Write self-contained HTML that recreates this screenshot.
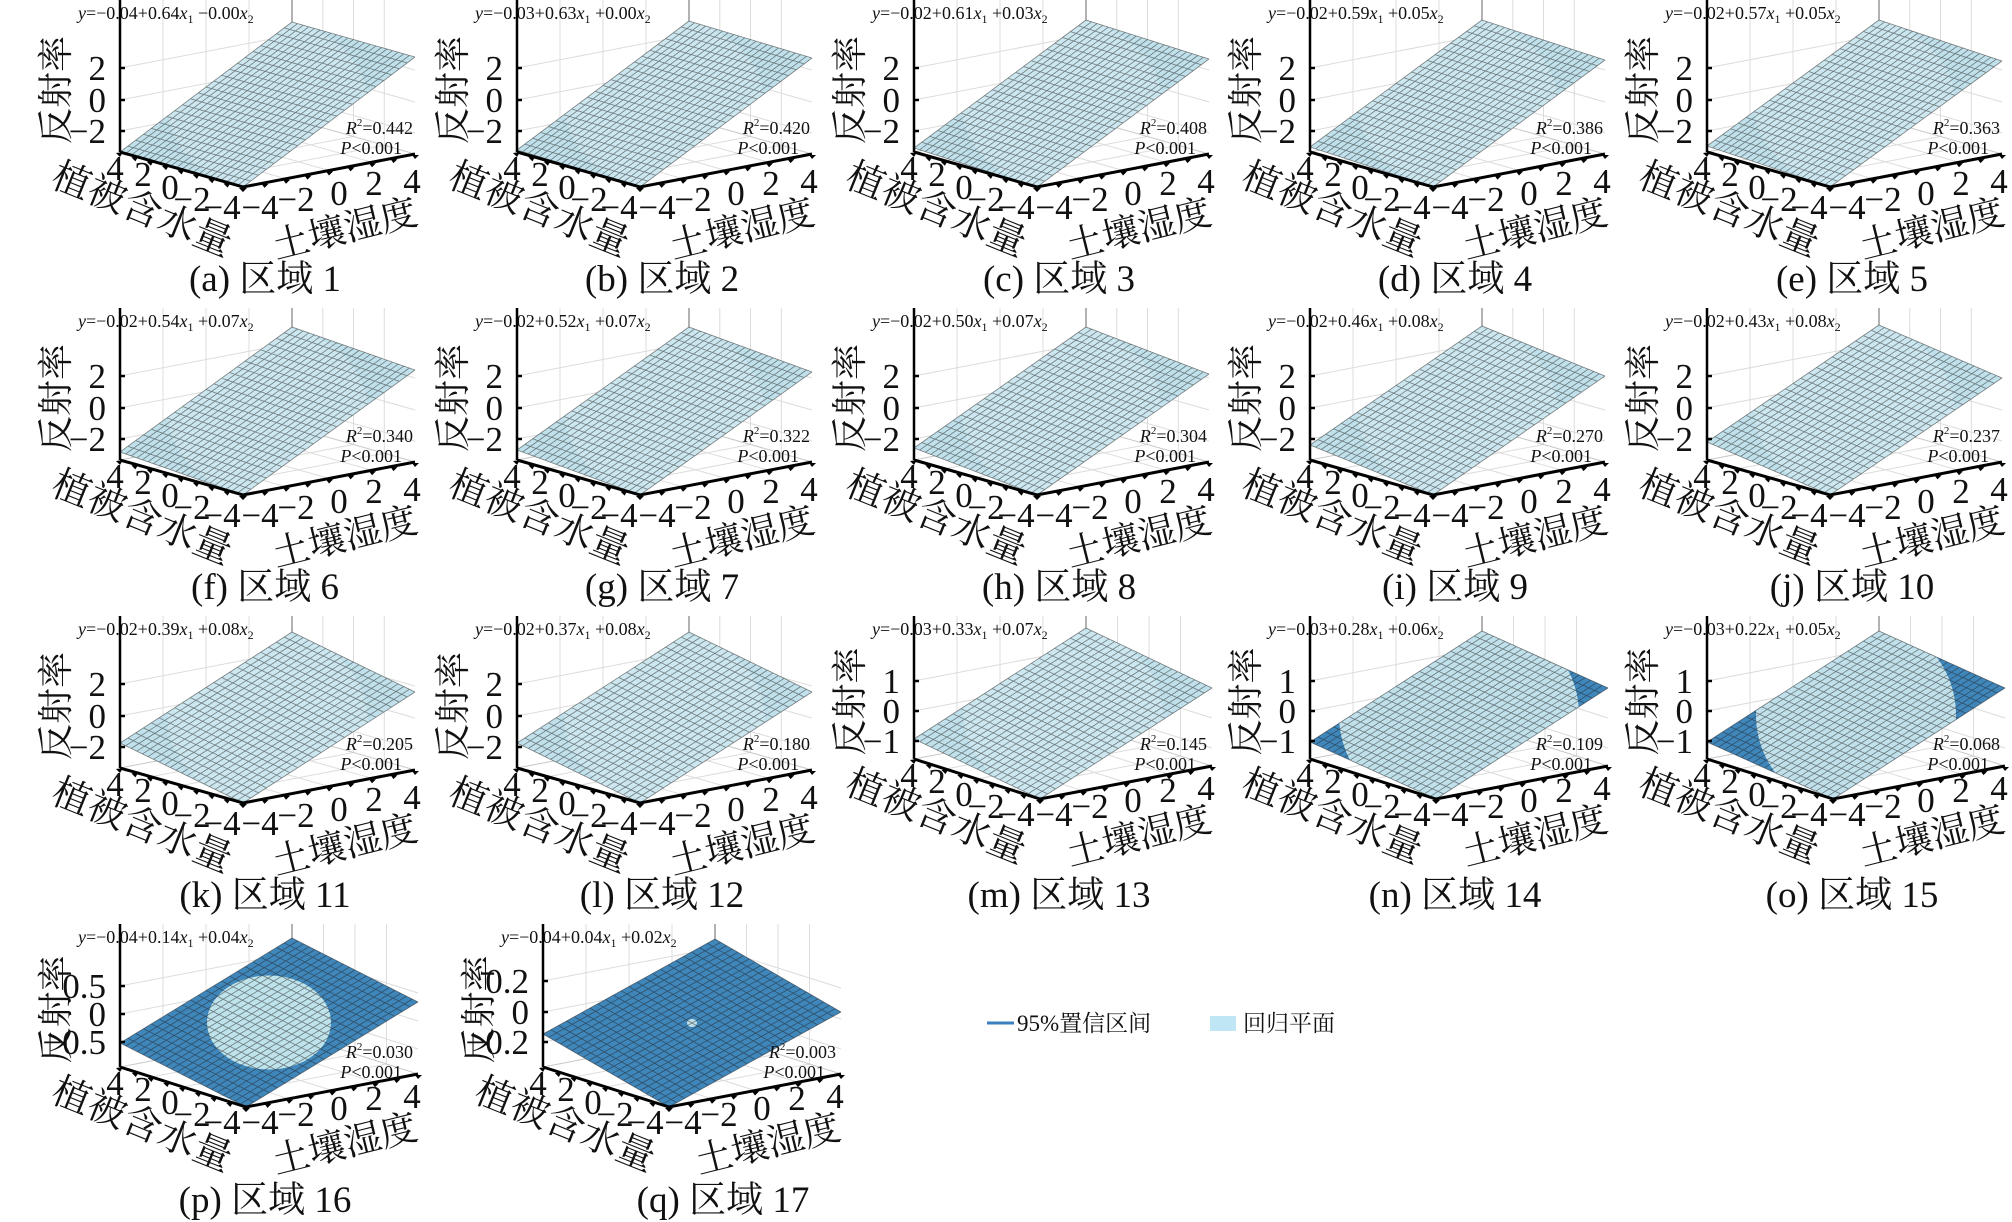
<!DOCTYPE html>
<html><head><meta charset="utf-8">
<style>
html,body{margin:0;padding:0;background:#fff;}
svg{display:block;}
text{font-family:"Liberation Serif","Noto Serif CJK SC","Noto Sans CJK SC",serif;fill:#111;}
</style></head>
<body>
<svg id="s" width="2012" height="1222" viewBox="0 0 2012 1222" xmlns="http://www.w3.org/2000/svg">
<line x1="987" y1="1023" x2="1014" y2="1023" stroke="#3a7fc0" stroke-width="3"/>
<text x="1017" y="1031" font-size="23">95%置信区间</text>
<rect x="1210" y="1016" width="26" height="15" fill="#bfe6f5"/>
<text x="1243" y="1031" font-size="23">回归平面</text>
</svg>
<script>
var P=[
["a",-0.04,0.64,"−","0.00","0.442",0,97,0],
["b",-0.03,0.63,"+","0.00","0.420",2,96,0],
["c",-0.02,0.61,"+","0.03","0.408",4,95,0],
["d",-0.02,0.59,"+","0.05","0.386",5,94,0],
["e",-0.02,0.57,"+","0.05","0.363",6,93,0],
["f",-0.02,0.54,"+","0.07","0.340",8,92,0],
["g",-0.02,0.52,"+","0.07","0.322",10,90,0],
["h",-0.02,0.50,"+","0.07","0.304",12,88,0],
["i",-0.02,0.46,"+","0.08","0.270",15,86,0],
["j",-0.02,0.43,"+","0.08","0.237",18,84,0],
["k",-0.02,0.39,"+","0.08","0.205",25,78,0],
["l",-0.02,0.37,"+","0.08","0.180",25,78,0],
["m",-0.03,0.33,"+","0.07","0.145",20,78,1],
["n",-0.03,0.28,"+","0.06","0.109",17,78,2],
["o",-0.03,0.22,"+","0.05","0.068",17,78,3],
["p",-0.04,0.14,"+","0.04","0.030",24,72,4],
["q",-0.04,0.04,"+","0.02","0.003",33,62,5]];
var ticks={a:["2","0","−2"],m:["1","0","−1"],p:["0.5","0","−0.5"],q:["0.2","0","−0.2"]};
var out="";
function f(n){return n.toFixed(1);}
for(var i=0;i<17;i++){
 var d=P[i],id=d[0];
 var ox,oy;
 if(i<15){ox=[0,397,794,1190,1587][i%5];oy=[0,308,616][Math.floor(i/5)];}
 else if(i==15){ox=0;oy=924;} else {ox=423;oy=924;}
 var late=i>=12;
 var base=late?143:152, top=late?47:49, zh=base-top;
 var du=late?[126,40]:[123,35], dv=[172,-33];
 var L=d[6],DV=d[7],mode=d[8];
 function pt(u,v,off){return [120+du[0]*u+dv[0]*v, base+du[1]*u+dv[1]*v-off];}
 var g='<g transform="translate('+ox+','+oy+')">';
 var B0=pt(0,1,0),R0=pt(1,1,0),F0=pt(1,0,0),L0=pt(0,0,0);
 var gl="#dcdcdc";
 for(var k=1;k<4;k++){var a=pt(0,k/4,0);g+='<line x1="'+f(a[0])+'" y1="'+f(a[1])+'" x2="'+f(a[0])+'" y2="'+f(a[1]-zh)+'" stroke="'+gl+'" stroke-width="1"/>';
  var b=pt(k/4,1,0);g+='<line x1="'+f(b[0])+'" y1="'+f(b[1])+'" x2="'+f(b[0])+'" y2="'+f(b[1]-zh)+'" stroke="'+gl+'" stroke-width="1"/>';}
 var tl=late?(i<15?[65,95,125]:(i==15?[62,90,118]:[57,88,118])):[68,100,131];
 var tks=i<12?ticks.a:(i<15?ticks.m:(i==15?ticks.p:ticks.q));
 for(var k=0;k<3;k++){var off=base-tl[k];
  g+='<polyline points="'+f(L0[0])+','+f(tl[k])+' '+f(B0[0])+','+f(B0[1]-off)+' '+f(R0[0])+','+f(R0[1]-off)+'" fill="none" stroke="'+gl+'" stroke-width="1"/>';}
 for(var k=1;k<4;k++){var a=pt(k/4,0,0),b=pt(k/4,1,0);g+='<line x1="'+f(a[0])+'" y1="'+f(a[1])+'" x2="'+f(b[0])+'" y2="'+f(b[1])+'" stroke="'+gl+'"/>';
  a=pt(0,k/4,0);b=pt(1,k/4,0);g+='<line x1="'+f(a[0])+'" y1="'+f(a[1])+'" x2="'+f(b[0])+'" y2="'+f(b[1])+'" stroke="'+gl+'"/>';}
 g+='<polyline points="'+f(L0[0])+','+f(L0[1])+' '+f(B0[0])+','+f(B0[1])+' '+f(R0[0])+','+f(R0[1])+'" fill="none" stroke="#c8c8c8" stroke-width="1"/>';
 g+='<polyline points="'+f(L0[0])+','+f(L0[1]-zh)+' '+f(B0[0])+','+f(B0[1]-zh)+' '+f(R0[0])+','+f(R0[1]-zh)+' '+f(R0[0])+','+f(R0[1])+'" fill="none" stroke="#444" stroke-width="2"/>';
 g+='<line x1="'+f(B0[0])+'" y1="'+f(B0[1])+'" x2="'+f(B0[0])+'" y2="'+f(B0[1]-zh)+'" stroke="#666" stroke-width="1"/>';
 function sp(u,v){return pt(u,v,L*(1-u)+DV*v);}
 var c1=sp(0,0),c2=sp(1,0),c3=sp(1,1),c4=sp(0,1);
 var poly=f(c1[0])+','+f(c1[1])+' '+f(c2[0])+','+f(c2[1])+' '+f(c3[0])+','+f(c3[1])+' '+f(c4[0])+','+f(c4[1]);
 var cid='cp'+id;
 g+='<clipPath id="'+cid+'"><polygon points="'+poly+'"/></clipPath>';
 var light="#c0e1eb",dark="#3f86bb";
 var cen=sp(0.5,0.5);
 var ell=[[115,130],[125,120],[120,108],[100,98],[62,47],[5,4]];
 if(mode<2){g+='<polygon points="'+poly+'" fill="'+light+'"/>';
  g+='<ellipse cx="'+f(cen[0])+'" cy="'+f(cen[1])+'" rx="100" ry="85" fill="#dcf0f5" opacity="0.45" clip-path="url(#'+cid+')"/>';}
 else{g+='<polygon points="'+poly+'" fill="'+dark+'"/>';
  var e=ell[mode];
  g+='<ellipse cx="'+f(cen[0])+'" cy="'+f(cen[1])+'" rx="'+e[0]+'" ry="'+e[1]+'" fill="'+(mode==4?"#bfe3ea":light)+'" clip-path="url(#'+cid+')"/>';}
 var N=22,pth="";
 for(var k=0;k<=N;k++){var t=k/N;var a=sp(t,0),b=sp(t,1);pth+='M'+f(a[0])+' '+f(a[1])+'L'+f(b[0])+' '+f(b[1]);
  a=sp(0,t);b=sp(1,t);pth+='M'+f(a[0])+' '+f(a[1])+'L'+f(b[0])+' '+f(b[1]);}
 g+='<path d="'+pth+'" stroke="#222" stroke-width="0.8" opacity="0.55" fill="none"/>';
 g+='<line x1="120" y1="'+base+'" x2="120" y2="'+top+'" stroke="#000" stroke-width="2.5"/>';
 for(var k=0;k<3;k++)g+='<line x1="120" y1="'+tl[k]+'" x2="125" y2="'+tl[k]+'" stroke="#000" stroke-width="2.5"/>';
 g+='<polyline points="'+f(L0[0])+','+f(L0[1])+' '+f(F0[0])+','+f(F0[1])+' '+f(R0[0])+','+f(R0[1])+'" fill="none" stroke="#000" stroke-width="3"/>';
 for(var k=0;k<=8;k++){var a=pt(k/8,0,0);g+='<path d="M'+f(a[0]-4)+' '+f(a[1]+1)+'l4 4l3 -5z" fill="#000"/>';
  var b=pt(1,k/8,0);g+='<path d="M'+f(b[0]-3)+' '+f(b[1]+1)+'l3 4l4 -4z" fill="#000"/>';}
 for(var k=0;k<3;k++)g+='<text x="106" y="'+(tl[k]+12)+'" font-size="35" text-anchor="end">'+tks[k]+'</text>';
 var dy=base-152;
 var vl=[["4",115,168],["2",143,174],["0",170,187],["−2",192,199],["−4",222,207]];
 var sl=[["−4",260,207],["−2",296,199],["0",339,193],["2",374,183],["4",412,181]];
 vl.concat(sl).forEach(function(q){g+='<text x="'+q[1]+'" y="'+(q[2]+dy+12)+'" font-size="35" text-anchor="middle">'+q[0]+'</text>';});
 g+='<text transform="translate(56,'+(90+dy/2)+') rotate(-90)" font-size="36" text-anchor="middle" dominant-baseline="central">反射率</text>';
 g+='<text transform="translate(142,'+(210+dy)+') rotate(22)" font-size="38" text-anchor="middle" dominant-baseline="central">植被含水量</text>';
 g+='<text transform="translate(345,'+(230+dy)+') rotate(-14)" font-size="37" text-anchor="middle" dominant-baseline="central">土壤湿度</text>';
 var cx=(i==16)?300:265, cyy=(i>=15)?275:278;
 g+='<text x="'+cx+'" y="'+(cyy+13)+'" font-size="37" text-anchor="middle">('+id+') 区域 '+(i+1)+'</text>';
 var c0=d[1].toFixed(2).replace("-","−"), c1s=d[2].toFixed(2);
 g+='<text x="78" y="19" font-size="18"><tspan font-style="italic">y</tspan>='+c0+'+'+c1s+'<tspan font-style="italic">x</tspan><tspan font-size="12" dy="4">1</tspan><tspan dy="-4"> '+d[3]+d[4]+'</tspan><tspan font-style="italic">x</tspan><tspan font-size="12" dy="4">2</tspan></text>';
 g+='<text x="413" y="134" font-size="18" text-anchor="end"><tspan font-style="italic">R</tspan><tspan font-size="11" dy="-8">2</tspan><tspan dy="8">=' + d[5] + '</tspan></text>';
 g+='<text x="402" y="154" font-size="18" text-anchor="end"><tspan font-style="italic">P</tspan>&lt;0.001</text>';
 g+='</g>';
 out+=g;
}
var s=document.getElementById('s');
s.insertAdjacentHTML('beforeend',out);
</script>
</body></html>
